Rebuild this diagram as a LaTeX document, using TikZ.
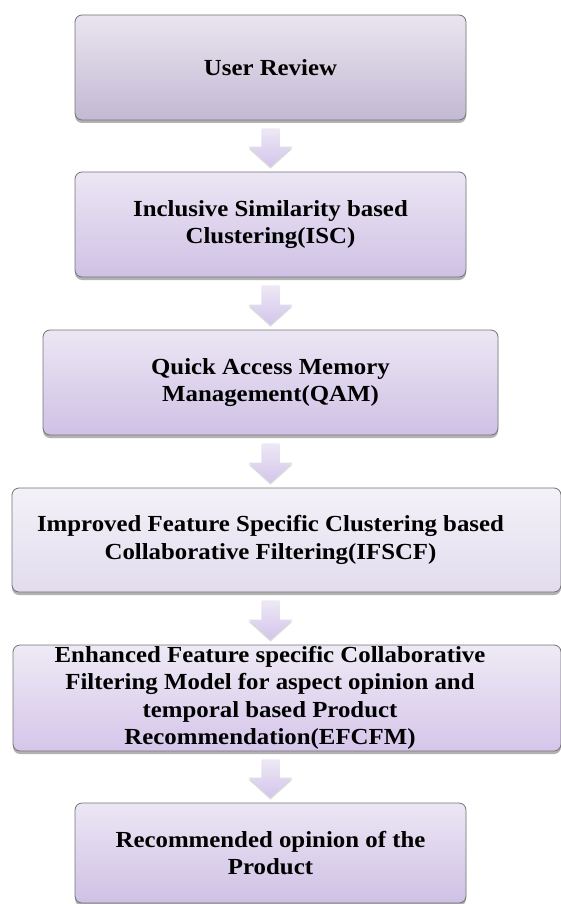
\documentclass[tikz,border=0pt]{standalone}
\usepackage{fontspec}
\setmainfont[FakeStretch=1.08]{Liberation Serif}
\usetikzlibrary{calc,shadows}

% fills of the step boxes and the arrows between them
\definecolor{revtop}{HTML}{E9E5EF}
\definecolor{revbot}{HTML}{C3B9D3}
\definecolor{steptop}{HTML}{ECE6F4}
\definecolor{stepbot}{HTML}{CFC1E5}
\definecolor{paletop}{HTML}{F3F1F8}
\definecolor{palebot}{HTML}{E2DCEE}
\definecolor{mixtop}{HTML}{EEEAF5}
\definecolor{mixbot}{HTML}{D5C6EA}
\definecolor{arrtop}{HTML}{EDE8F5}
\definecolor{arrbot}{HTML}{D3C5EB}

\tikzset{
  stepfont/.style={font=\bfseries\fontsize{23}{27.5}\selectfont},
  stepbox/.style={rectangle, rounded corners=7pt, draw=gray!90!black, line width=0.8pt,
    minimum width=#1, minimum height=105pt, inner sep=0pt, align=center, stepfont,
    top color=steptop, bottom color=stepbot,
    drop shadow={shadow xshift=0pt, shadow yshift=-3pt, opacity=0.3, fill=black}},
  steplabel/.style={align=center, inner sep=0pt, stepfont},
  flowarrow/.style={top color=arrtop, bottom color=arrbot,
    drop shadow={shadow xshift=0pt, shadow yshift=-2pt, opacity=0.15, fill=black}},
}

% block arrow from the bottom of one box down to the next one
\newcommand{\flowstep}[2]{%
  \path[flowarrow] let \p1=(#1.south), \p2=(#2.north), \p3=(axis) in
    (\x3-9pt,\y1-8pt) -- (\x3+9pt,\y1-8pt) -- (\x3+9pt,\y2+25pt) -- (\x3+22pt,\y2+25pt)
    -- (\x3,\y2+5pt) -- (\x3-22pt,\y2+25pt) -- (\x3-9pt,\y2+25pt) -- cycle;}

\begin{document}
\begin{tikzpicture}[x=1pt, y=-1pt]
  \useasboundingbox (0,0) rectangle (561,904);
  \coordinate (axis) at (270.5,0);

  % the steps, top to bottom
  \node[stepbox=391pt, top color=revtop, bottom color=revbot] (review) at (270.5,67.5) {User Review};
  \node[stepbox=391pt] (isc) at (270.5,224.5) {Inclusive Similarity based\\Clustering(ISC)};
  \node[stepbox=455pt] (qam) at (270.5,382.5) {Quick Access Memory\\Management(QAM)};
  \node[stepbox=549pt, minimum height=104pt, top color=paletop, bottom color=palebot,
    label={[steplabel, xshift=-16pt]center:{Improved Feature Specific Clustering based\\Collaborative Filtering(IFSCF)}}]
    (ifscf) at (286.5,540) {};
  \node[stepbox=548pt, minimum height=106pt, top color=mixtop, bottom color=mixbot,
    label={[steplabel, xshift=-17pt]center:{Enhanced Feature specific Collaborative\\Filtering Model for aspect opinion and\\temporal based Product\\Recommendation(EFCFM)}}]
    (efcfm) at (287,698) {};
  \node[stepbox=391pt, minimum height=100pt] (rec) at (270.5,853) {Recommended opinion of the\\Product};

  % arrows
  \flowstep{review}{isc}
  \flowstep{isc}{qam}
  \flowstep{qam}{ifscf}
  \flowstep{ifscf}{efcfm}
  \flowstep{efcfm}{rec}
\end{tikzpicture}
\end{document}
